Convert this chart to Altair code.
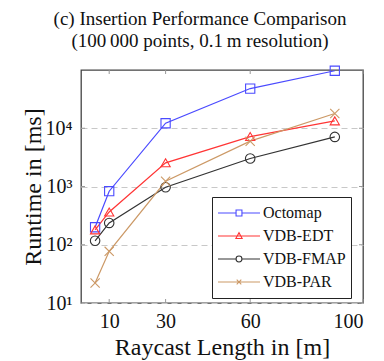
import altair as alt
import pandas as pd

x_vals = [5, 10, 30, 60, 90]
series_names = ["Octomap", "VDB-EDT", "VDB-FMAP", "VDB-PAR"]
octomap = [200, 830, 12200, 48000, 97000]
vdb_edt = [180, 365, 2550, 7200, 13400]
vdb_fmap = [117, 237, 970, 3030, 7100]
vdb_par = [22, 77, 1230, 6000, 17900]
colors = ["#4a4aff", "#ff3535", "#333333", "#cc9966"]
x_ticks = [10, 30, 60, 100]
y_ticks = [10, 100, 1000, 10000]
title_lines = ["(c) Insertion Performance Comparison", "(100\u2009000 points, 0.1\u2009m resolution)"]

series_values = [octomap, vdb_edt, vdb_fmap, vdb_par]
rows = []
for name, vals in zip(series_names, series_values):
    for xv, yv in zip(x_vals, vals):
        rows.append({"series": name, "x": xv, "y": yv})
df = pd.DataFrame(rows)
xt_df = pd.DataFrame({"x": x_ticks})
yt_df = pd.DataFrame({"y": y_ticks})

FONT = "Liberation Serif"
W, H = 282, 233

xs = alt.Scale(domain=[0, 100], nice=False)
ys = alt.Scale(type="log", domain=[10, 100000], nice=False)
cs = alt.Scale(domain=series_names, range=colors)

point_shapes = [
    "square",
    "triangle-up",
    "circle",
    "M-1,-1L1,1M-1,1L1,-1",
]
legend_paths = [
    "M-1,0H-0.14M0.14,0H1M-0.14,-0.14H0.14V0.14H-0.14Z",
    "M-1,0H1M-0.15,0.12L0,-0.16L0.15,0.12Z",
    "M-1,0H-0.14M0.14,0H1M-0.14,0A0.14,0.14 0 1,0 0.14,0A0.14,0.14 0 1,0 -0.14,0",
    "M-1,0H1M-0.11,-0.11L0.11,0.11M-0.11,0.11L0.11,-0.11",
]

ylabel = ("datum.value == 10 ? '10\u00b9' : datum.value == 100 ? '10\u00b2' : "
          "datum.value == 1000 ? '10\u00b3' : datum.value == 10000 ? '10\u2074' : ''")

base = alt.Chart(df)
leg = alt.Legend(title=None)
color_enc = alt.Color("series:N", scale=cs, legend=leg)

x_main = alt.X("x:Q", scale=xs, title="Raycast Length in [m]",
               axis=alt.Axis(values=x_ticks, grid=False, domain=False, ticks=False,
                             labelPadding=8, titlePadding=4))
y_main = alt.Y("y:Q", scale=ys, title="Runtime in [ms]",
               axis=alt.Axis(values=y_ticks, grid=True, gridDash=[6, 4], gridColor="#c8c8c8",
                             domain=False, ticks=False, labelExpr=ylabel,
                             labelPadding=9, titlePadding=0))

lines = base.mark_line(strokeWidth=1.2).encode(
    x=x_main, y=y_main, color=color_enc, detail="series:N",
)

point_layers = []
for name, shp in zip(series_names, point_shapes):
    point_layers.append(
        base.transform_filter(alt.datum.series == name).mark_point(
            shape=shp, size=85 if shp != "circle" else 90, filled=False, strokeWidth=1.1,
            opacity=1,
        ).encode(
            x=alt.X("x:Q", scale=xs),
            y=alt.Y("y:Q", scale=ys),
            color=color_enc,
        )
    )

legend_layer = base.transform_filter("false").mark_point(filled=False, opacity=1).encode(
    x=alt.X("x:Q", scale=xs),
    y=alt.Y("y:Q", scale=ys),
    color=color_enc,
    shape=alt.Shape("series:N", scale=alt.Scale(domain=series_names, range=legend_paths),
                    legend=leg),
)

tick_color = "#999999"
TL = 4
xt_bottom = alt.Chart(xt_df).mark_rule(color=tick_color, strokeWidth=1).encode(
    x=alt.X("x:Q", scale=xs), y=alt.value(H - TL), y2=alt.value(H))
xt_top = alt.Chart(xt_df).mark_rule(color=tick_color, strokeWidth=1).encode(
    x=alt.X("x:Q", scale=xs), y=alt.value(0), y2=alt.value(TL))
yt_left = alt.Chart(yt_df).mark_rule(color=tick_color, strokeWidth=1).encode(
    y=alt.Y("y:Q", scale=ys), x=alt.value(0), x2=alt.value(TL))
yt_right = alt.Chart(yt_df).mark_rule(color=tick_color, strokeWidth=1).encode(
    y=alt.Y("y:Q", scale=ys), x=alt.value(W - TL), x2=alt.value(W))

chart = alt.layer(
    lines, *point_layers, legend_layer, xt_bottom, xt_top, yt_left, yt_right
).properties(
    width=W, height=H,
    title=alt.TitleParams(title_lines, font=FONT, fontSize=19, fontWeight="normal",
                          color="#111", lineHeight=22, anchor="middle", dx=-22, offset=13),
    autosize=alt.AutoSizeParams(type="none"),
    padding={"left": 73, "top": 62, "right": 13, "bottom": 62},
).configure_axis(
    labelFont=FONT, labelFontSize=20, labelColor="#111",
    titleFont=FONT, titleFontSize=24, titleFontWeight="normal", titleColor="#111",
).configure_view(
    stroke="#444444", strokeWidth=1.3,
).configure_legend(
    orient="none", legendX=131, legendY=127,
    strokeColor="#222222", padding=5, fillColor="white",
    labelFont=FONT, labelFontSize=16, labelColor="#111",
    symbolSize=1764, symbolStrokeWidth=1.1, labelOffset=2, rowPadding=1,
    clipHeight=22, cornerRadius=0,
)

chart.save("out.html", embed_options={"renderer": "svg", "actions": False})
